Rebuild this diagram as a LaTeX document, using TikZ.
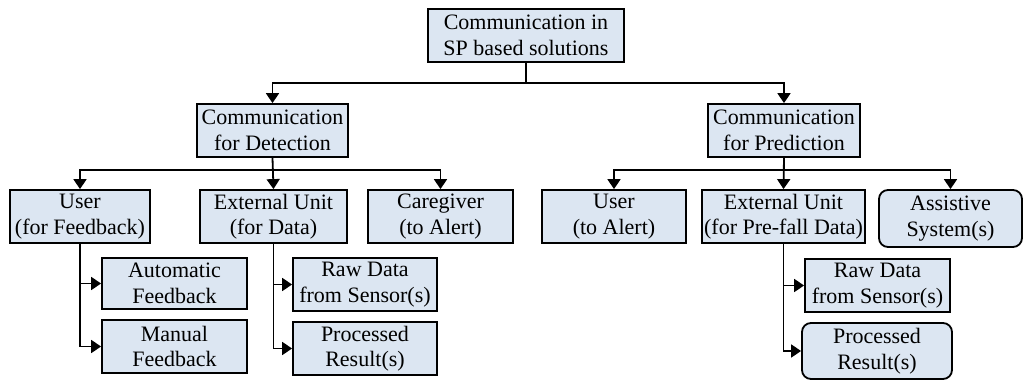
\documentclass[tikz,border=0pt]{standalone}
\usepackage{fontspec}
\setmainfont{Liberation Serif}
\usetikzlibrary{arrows.meta}
\definecolor{boxfill}{HTML}{DCE6F2}
\tikzset{
  box/.style={draw,line width=1.8pt,fill=boxfill,align=center,inner sep=0pt,
    minimum height=53pt,font=\fontsize{22}{25.5}\selectfont},
  rbox/.style={box,rounded corners=9pt},
  arr/.style={line width=1.8pt,-{Triangle[width=13pt,length=10pt]}}
}
\begin{document}
\begin{tikzpicture}[x=1pt,y=-1pt]
      \useasboundingbox (0,0) rectangle (1026,380);
      \draw
        (526,35.5) node[box,minimum width=196pt] (root){Communication in\\SP based solutions}
        (272.5,130.5) node[box,minimum width=151pt] (det){Communication\\for Detection}
        (784,130.5) node[box,minimum width=152pt] (pred){Communication\\for Prediction}
        (80,216.5) node[box,minimum width=140pt] (userfb){User\\(for Feedback)}
        (273.5,216.5) node[box,minimum width=147pt] (extdata){External Unit\\(for Data)}
        (440.5,216.5) node[box,minimum width=145pt] (care){Caregiver\\(to Alert)}
        (614,216.5) node[box,minimum width=144pt] (useralert){User\\(to Alert)}
        (783.5,216.5) node[box,minimum width=163pt] (extpre){External Unit\\(for Pre-fall Data)}
        (950.5,218.5) node[rbox,minimum width=143pt,minimum height=57pt] (assist){Assistive\\System(s)}
        (174.5,283.5) node[box,minimum width=145pt,minimum height=51pt] (autofb){Automatic\\Feedback}
        (174.5,346.5) node[box,minimum width=145pt] (manfb){Manual\\Feedback}
        (365,284.5) node[box,minimum width=144pt] (rawdet){Raw Data\\from Sensor(s)}
        (365,348.5) node[box,minimum width=144pt] (procdet){Processed\\Result(s)}
        (877.5,285.5) node[box,minimum width=145pt] (rawpred){Raw Data\\from Sensor(s)}
        (877,351) node[rbox,minimum width=150pt,minimum height=56pt] (procpred){Processed\\Result(s)};
      \begin{scope}[arr]
        \draw (root.south) -- ++(0,20) -| (det.north);
        \draw (root.south) -- ++(0,20) -| (pred.north);
        \draw (det.south) -- ++(0,12) -| (userfb.north);
        \draw (det.south) -- (extdata.north);
        \draw (det.south) -- ++(0,12) -| (care.north);
        \draw (pred.south) -- ++(0,12) -| (useralert.north);
        \draw (pred.south) -- (extpre.north);
        \draw (pred.south) -- ++(0,12) -| (assist.north);
        \draw (userfb.south) |- (autofb.west);
        \draw (userfb.south) |- (manfb.west);
        \draw (extdata.south) |- (rawdet.west);
        \draw (extdata.south) |- (procdet.west);
        \draw (extpre.south) |- (rawpred.west);
        \draw (extpre.south) |- (procpred.west);
      \end{scope}
    \end{tikzpicture}
\end{document}
